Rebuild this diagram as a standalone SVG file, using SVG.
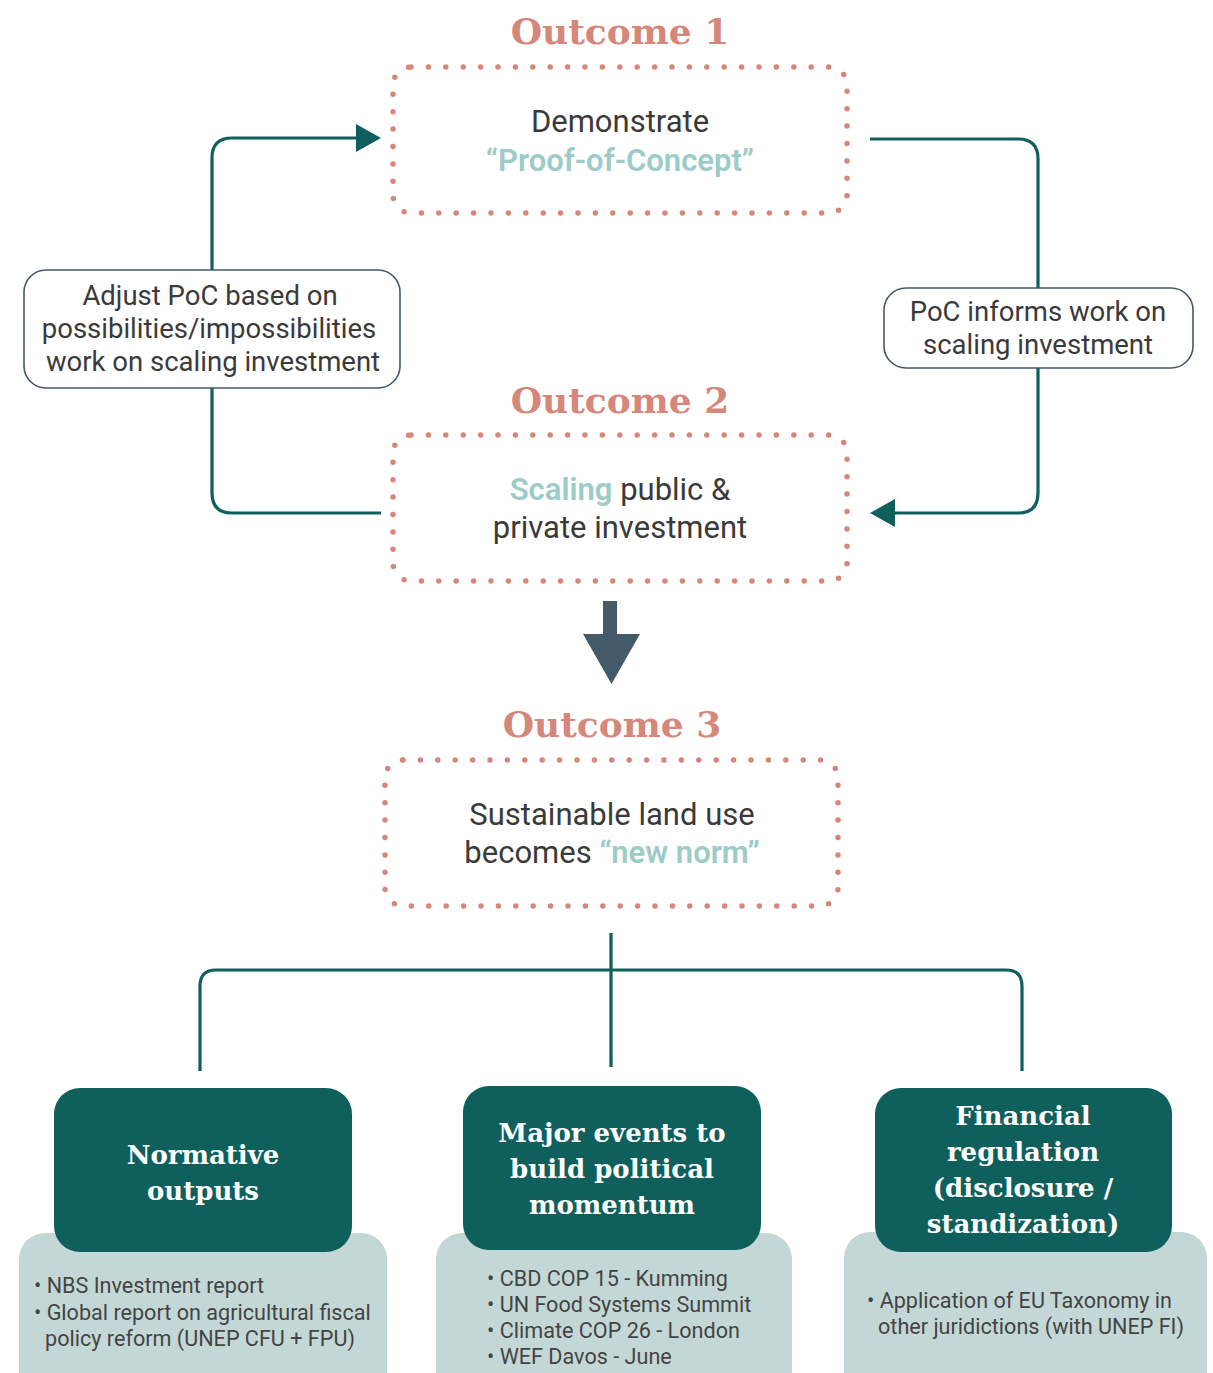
<svg xmlns="http://www.w3.org/2000/svg" width="1213" height="1373" viewBox="0 0 1213 1373">
<defs>
<style>
.title{font-family:"DejaVu Serif","Liberation Serif",serif;font-weight:bold;font-size:36px;fill:#D4877A;text-anchor:middle}
.dot{fill:none;stroke:#D4877A;stroke-width:5.5;stroke-linecap:round;stroke-dasharray:0 17.4}
.body{font-family:Roboto,"Liberation Sans",sans-serif;font-size:31px;fill:#3A3A3A;text-anchor:middle}
.hl{fill:#9CCBC8;font-weight:600}
.lbl{fill:#fff;stroke:#44596A;stroke-width:1.6}
.lbltxt{font-family:Roboto,"Liberation Sans",sans-serif;font-size:27.5px;fill:#3A3A3A;text-anchor:middle}
.conn{fill:none;stroke:#0F5F5C;stroke-width:3.2}
.head{fill:#0F5F5C}
.dark{fill:#0F5F5C}
.light{fill:#C3D8D6}
.btitle{font-family:"DejaVu Serif","Liberation Serif",serif;font-weight:bold;font-size:26px;fill:#fff;text-anchor:middle}
.bul{font-family:Roboto,"Liberation Sans",sans-serif;font-size:21.6px;fill:#444}
</style>
</defs>
<rect width="1213" height="1373" fill="#fff"/>

<g id="connectors">
  <path class="conn" d="M381,513 H232 Q212,513 212,493 V158 Q212,138 232,138 H360"/>
  <polygon class="head" points="381,138 356,124 356,152"/>
  <path class="conn" d="M870,139 H1018 Q1038,139 1038,159 V493 Q1038,513 1018,513 H890"/>
  <polygon class="head" points="870,513 895,499 895,527"/>
  <polygon fill="#445A68" points="603,601 617,601 617,634 640,634 611.5,684 583,634 603,634"/>
  <path class="conn" d="M611,933 V1067"/>
  <path class="conn" d="M200,1071 V986 Q200,970 216,970 H1006 Q1022,970 1022,986 V1071"/>
</g>

<g id="outcome1">
  <text class="title" x="620" y="44">Outcome 1</text>
  <rect class="dot" x="393" y="67" width="454" height="146" rx="18"/>
  <text class="body" x="620" y="132">Demonstrate</text>
  <text class="body hl" x="620" y="171">“Proof-of-Concept”</text>
</g>

<g id="label-left">
  <rect class="lbl" x="24" y="270" width="376" height="118" rx="22"/>
  <text class="lbltxt" x="210" y="305">Adjust PoC based on</text>
  <text class="lbltxt" x="209" y="338">possibilities/impossibilities</text>
  <text class="lbltxt" x="213" y="371">work on scaling investment</text>
</g>

<g id="label-right">
  <rect class="lbl" x="884" y="288" width="309" height="80" rx="22"/>
  <text class="lbltxt" x="1038" y="321">PoC informs work on</text>
  <text class="lbltxt" x="1038" y="354">scaling investment</text>
</g>

<g id="outcome2">
  <text class="title" x="620" y="413">Outcome 2</text>
  <rect class="dot" x="393" y="435" width="454" height="146" rx="18"/>
  <text class="body" x="620" y="500"><tspan class="hl">Scaling</tspan> public &amp;</text>
  <text class="body" x="620" y="538">private investment</text>
</g>

<g id="outcome3">
  <text class="title" x="612" y="737">Outcome 3</text>
  <rect class="dot" x="385" y="760" width="453" height="146" rx="18"/>
  <text class="body" x="612" y="825">Sustainable land use</text>
  <text class="body" x="612" y="863">becomes <tspan class="hl">“new norm”</tspan></text>
</g>

<g id="normative">
  <rect class="light" x="19" y="1233" width="368" height="170" rx="26"/>
  <rect class="dark" x="54" y="1088" width="298" height="164" rx="26"/>
  <text class="btitle" x="203" y="1164">Normative</text>
  <text class="btitle" x="203" y="1200">outputs</text>
  <text class="bul" x="34" y="1293">• NBS Investment report</text>
  <text class="bul" x="34" y="1320">• Global report on agricultural fiscal</text>
  <text class="bul" x="45" y="1346">policy reform (UNEP CFU + FPU)</text>
</g>

<g id="events">
  <rect class="light" x="436" y="1233" width="356" height="170" rx="26"/>
  <rect class="dark" x="463" y="1086" width="298" height="164" rx="26"/>
  <text class="btitle" x="612" y="1142">Major events to</text>
  <text class="btitle" x="612" y="1178">build political</text>
  <text class="btitle" x="612" y="1214">momentum</text>
  <text class="bul" x="487" y="1286">• CBD COP 15 - Kumming</text>
  <text class="bul" x="487" y="1312">• UN Food Systems Summit</text>
  <text class="bul" x="487" y="1338">• Climate COP 26 - London</text>
  <text class="bul" x="487" y="1364">• WEF Davos - June</text>
</g>

<g id="regulation">
  <rect class="light" x="844" y="1232" width="363" height="170" rx="26"/>
  <rect class="dark" x="875" y="1088" width="297" height="164" rx="26"/>
  <text class="btitle" x="1023" y="1125">Financial</text>
  <text class="btitle" x="1023" y="1161">regulation</text>
  <text class="btitle" x="1023" y="1197">(disclosure /</text>
  <text class="btitle" x="1023" y="1233">standization)</text>
  <text class="bul" x="867" y="1308">• Application of EU Taxonomy in</text>
  <text class="bul" x="878" y="1334">other juridictions (with UNEP FI)</text>
</g>
</svg>
